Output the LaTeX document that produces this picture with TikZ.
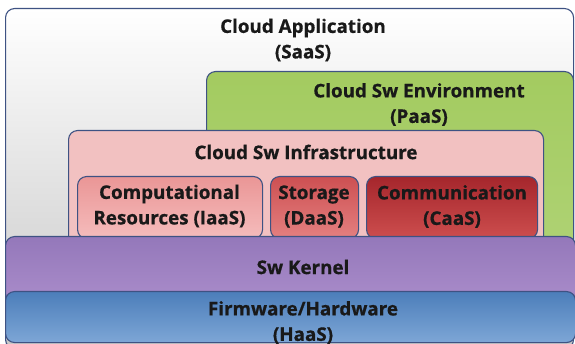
\documentclass[tikz,border=0pt]{standalone}
\usepackage{fontspec}
\setmainfont{Open Sans}
\begin{document}
\begin{tikzpicture}[x=1pt,y=-1pt,
  box/.style={draw=bord,line width=1.1pt,rounded corners=9pt,inner sep=0pt},
  lbl/.style={font=\bfseries\addfontfeature{FakeBold=0.7}\fontsize{18.8}{25.5}\selectfont,text=black!90,align=center,inner sep=0pt}]
\definecolor{bord}{HTML}{3E5283}
\useasboundingbox (0,0) rectangle (575,344);
% outer SaaS
\node[box,top color=white,bottom color=black!22,minimum width=568pt,minimum height=340pt,anchor=north west] (saas) at (5,8) {};
\node[lbl] (saast) at (303,40) {Cloud Application\\(SaaS)};
% PaaS
\node[box,top color={rgb,255:red,163;green,203;blue,96},bottom color={rgb,255:red,176;green,211;blue,118},minimum width=367pt,minimum height=200pt,anchor=north west] (paas) at (206,71) {};
\node[lbl] (paast) at (419,104.5) {Cloud Sw Environment\\(PaaS)};
% Infrastructure
\node[box,fill={rgb,255:red,242;green,193;blue,193},minimum width=475pt,minimum height=140pt,anchor=north west] (infra) at (68,130) {};
\node[lbl] (infrat) at (306,152) {Cloud Sw Infrastructure};
% sub boxes
\node[box,top color={rgb,255:red,234;green,150;blue,150},bottom color={rgb,255:red,245;green,188;blue,188},minimum width=185pt,minimum height=62pt,anchor=north west] (comp) at (77,176) {};
\node[lbl] (compt) at (169.5,206) {Computational\\Resources (IaaS)};
\node[box,top color={rgb,255:red,205;green,80;blue,82},bottom color={rgb,255:red,228;green,128;blue,128},minimum width=88pt,minimum height=62pt,anchor=north west] (stor) at (270,176) {};
\node[lbl] (stort) at (314,206.5) {Storage\\(DaaS)};
\node[box,top color={rgb,255:red,165;green,38;blue,44},bottom color={rgb,255:red,205;green,78;blue,78},minimum width=171pt,minimum height=62pt,anchor=north west] (comm) at (366,176) {};
\node[lbl] (commt) at (452,206.5) {Communication\\(CaaS)};
% Sw Kernel
\node[box,top color={rgb,255:red,148;green,120;blue,186},bottom color={rgb,255:red,170;green,140;blue,202},minimum width=570pt,minimum height=66pt,anchor=north west] (kern) at (5,236) {};
\node[lbl] (kernt) at (303,267) {Sw Kernel};
% Firmware
\node[box,top color={rgb,255:red,76;green,126;blue,186},bottom color={rgb,255:red,125;green,166;blue,214},minimum width=570pt,minimum height=51pt,anchor=north west] (firm) at (5,291) {};
\node[lbl] (firmt) at (303,322.5) {Firmware/Hardware\\(HaaS)};
\end{tikzpicture}
\end{document}
